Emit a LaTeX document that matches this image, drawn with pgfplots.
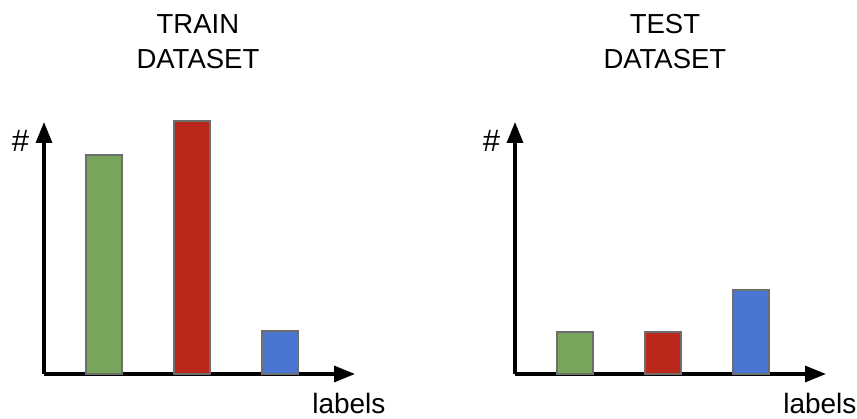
\documentclass[border=0pt]{standalone}
\usepackage{pgfplots}
\pgfplotsset{compat=1.18}
\usetikzlibrary{arrows.meta}
\usepackage{fontspec}
\setmainfont{Liberation Sans}

\definecolor{bargreen}{HTML}{77A55B}
\definecolor{barred}{HTML}{BC271C}
\definecolor{barblue}{HTML}{4A76D2}
\definecolor{baredge}{HTML}{6E6E6E}

\pgfplotsset{
  datasetaxis/.style={
    scale only axis, width=311pt, height=252pt,
    xmin=0, xmax=311, ymin=0, ymax=252,
    axis lines=left, xtick=\empty, ytick=\empty,
    axis line style={line width=3.2pt, -{Triangle[length=21pt,width=16pt]}},
    clip=false,
    title style={font=\fontsize{27.5}{34.5}\selectfont, align=center, anchor=south, inner sep=0pt},
    xlabel style={font=\fontsize{28}{34}\selectfont, anchor=base west, inner sep=0pt,
      at={(axis description cs:0.862,-0.155)}},
    ylabel style={font=\fontsize{31}{34}\selectfont, anchor=center, inner sep=0pt, rotate=-90,
      at={(axis description cs:-0.0756,0.925)}},
    xlabel={labels}, ylabel={\#},
  },
  databar/.style={ybar, bar width=36, bar shift=0pt, draw=baredge, line width=1.3pt, fill=#1},
}

\begin{document}
\begin{tikzpicture}
\useasboundingbox (0,0) rectangle (857pt,419pt);

% train
\begin{axis}[datasetaxis, at={(44pt,45pt)},
  title={TRAIN\\DATASET}, title style={at={(axis description cs:0.495,1.188)}}]
  \addplot[databar=bargreen] coordinates {(60,219)};
  \addplot[databar=barred]   coordinates {(148,253)};
  \addplot[databar=barblue]  coordinates {(236,43)};
\end{axis}

% test
\begin{axis}[datasetaxis, at={(515pt,45pt)},
  title={TEST\\DATASET}, title style={at={(axis description cs:0.482,1.188)}}]
  \addplot[databar=bargreen] coordinates {(60,42)};
  \addplot[databar=barred]   coordinates {(148,42)};
  \addplot[databar=barblue]  coordinates {(236,84)};
\end{axis}
\end{tikzpicture}
\end{document}
